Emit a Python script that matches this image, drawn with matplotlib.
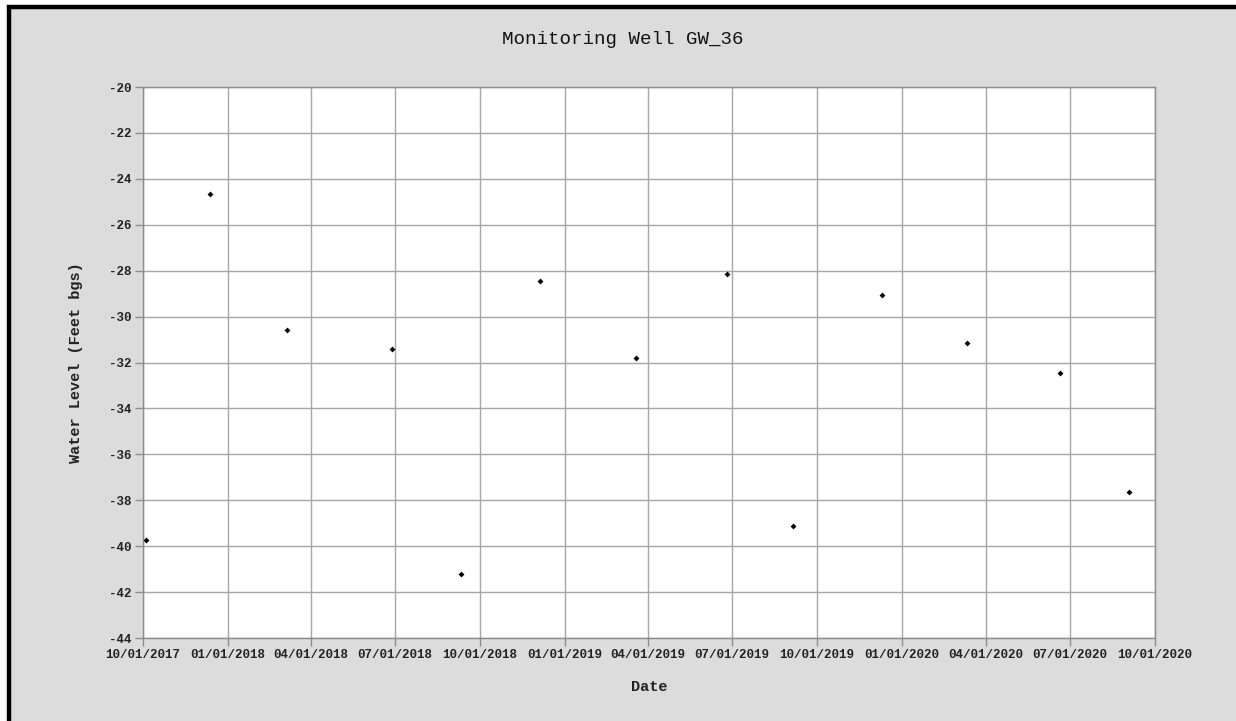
import numpy as np
import matplotlib
matplotlib.use("Agg")
import matplotlib.pyplot as plt
import matplotlib.dates as mdates
from matplotlib.patches import Rectangle
import datetime as dt

## Données
sample_dates = ["2017-10-04", "2017-12-13", "2018-03-06", "2018-06-28", "2018-09-10",
                "2018-12-05", "2019-03-19", "2019-06-25", "2019-09-05", "2019-12-10",
                "2020-03-11", "2020-06-20", "2020-09-03"]
water_level = [-39.75, -24.66, -30.6, -31.42, -41.22, -28.45, -31.8, -28.14,
               -39.13, -29.07, -31.15, -32.45, -37.65]
tick_dates = ["2017-10-01", "2018-01-01", "2018-04-01", "2018-07-01", "2018-10-01",
              "2019-01-01", "2019-04-01", "2019-07-01", "2019-10-01", "2020-01-01",
              "2020-04-01", "2020-07-01", "2020-10-01"]
y_ticks = list(range(-44, -19, 2))

dates = [dt.datetime.strptime(d, "%Y-%m-%d") for d in sample_dates]
ticks = [dt.datetime.strptime(d, "%Y-%m-%d") for d in tick_dates]

plt.rcParams['font.family'] = ['Liberation Mono', 'DejaVu Sans Mono']
plt.rcParams['axes.unicode_minus'] = False

W, H = 1236, 721
fig = plt.figure(figsize=(W / 100, H / 100), dpi=100, facecolor='white')

# fond gris + cadre noir (haut et gauche)
bg = Rectangle((9 / W, -0.1), 1.2, 1.1 - 7 / H, transform=fig.transFigure,
               facecolor='#dcdcdc', edgecolor='black', linewidth=3.2, zorder=-10)
fig.patches.append(bg)

ax = fig.add_axes([143 / W, 1 - 638 / H, (1155 - 143) / W, (638 - 87) / H])
ax.set_facecolor('white')

ax.scatter(dates, water_level, marker='D', s=9, color='black', zorder=3, linewidths=0)

ax.set_xlim(ticks[0], ticks[-1])
ax.set_ylim(-44, -20)
ax.set_xticks(ticks)
ax.xaxis.set_major_formatter(mdates.DateFormatter("%m/%d/%Y"))
ax.set_yticks(y_ticks)

ax.grid(True, color='#a6a6a6', linewidth=1.0)
ax.set_axisbelow(True)
for s in ax.spines.values():
    s.set_color('#8c8c8c')
    s.set_linewidth(1.0)

ax.tick_params(axis='both', direction='out', length=6, width=1, color='#8c8c8c',
               labelsize=9, pad=2)
for lab in ax.get_xticklabels() + ax.get_yticklabels():
    lab.set_fontweight('bold')
    lab.set_color('#222222')

ax.set_xlabel("Date", fontsize=11, fontweight='bold', labelpad=13.5, color='#222222')
ax.set_ylabel("Water Level (Feet bgs)", fontsize=11, fontweight='bold', labelpad=19,
              color='#222222')
fig.text(623 / W, 1 - 40 / H, "Monitoring Well GW_36", ha='center',
         va='center', fontsize=13.8, color='#111111')

plt.savefig("out.png", dpi=100, facecolor=fig.get_facecolor())
